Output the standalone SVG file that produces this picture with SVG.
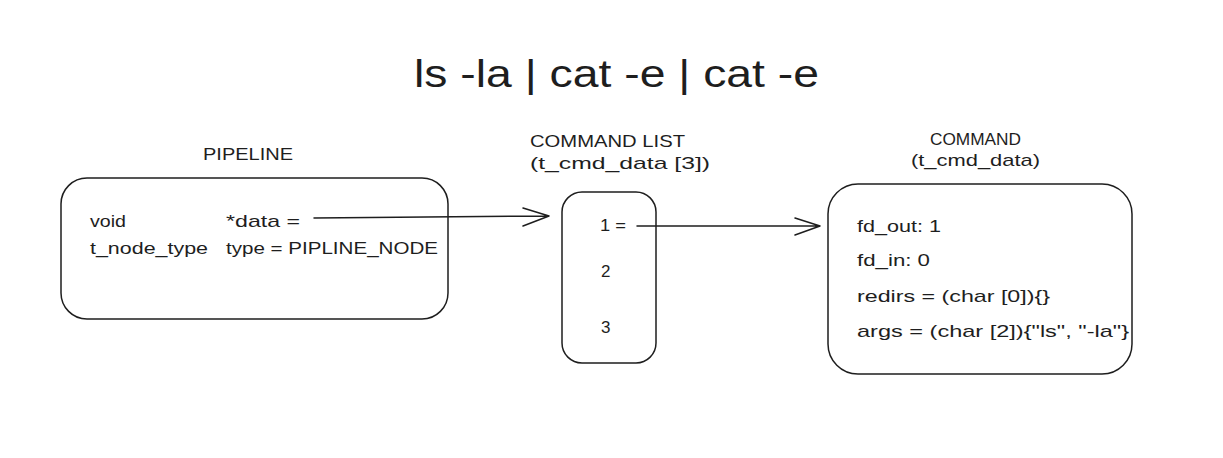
<svg xmlns="http://www.w3.org/2000/svg" width="1223" height="458" viewBox="0 0 1223 458">
<style>
.t{font-family:"Liberation Sans","DejaVu Sans",sans-serif;font-size:17px;fill:#1e1e1e}
.box{fill:none;stroke:#1e1e1e;stroke-width:1.5}
.ln{fill:none;stroke:#1e1e1e;stroke-width:1.5;stroke-linecap:round;stroke-linejoin:round}
</style>
<rect width="1223" height="458" fill="#ffffff"/>
<text class="t" x="414" y="87" style="font-size:38px" textLength="405" lengthAdjust="spacingAndGlyphs">ls -la | cat -e | cat -e</text>
<g id="pipeline">
<text class="t" x="203" y="160" textLength="90" lengthAdjust="spacingAndGlyphs">PIPELINE</text>
<rect class="box" x="61" y="178" width="387" height="141" rx="26"/>
<text class="t" x="90" y="227" textLength="36" lengthAdjust="spacingAndGlyphs">void</text>
<text class="t" x="226" y="227" textLength="74" lengthAdjust="spacingAndGlyphs">*data =</text>
<text class="t" x="90" y="254" textLength="118" lengthAdjust="spacingAndGlyphs">t_node_type</text>
<text class="t" x="226" y="254" textLength="212" lengthAdjust="spacingAndGlyphs">type = PIPLINE_NODE</text>
</g>
<g id="command_list">
<text class="t" x="530" y="147" textLength="155" lengthAdjust="spacingAndGlyphs">COMMAND LIST</text>
<text class="t" x="530" y="169" textLength="180" lengthAdjust="spacingAndGlyphs">(t_cmd_data [3])</text>
<rect class="box" x="562" y="192" width="94" height="171" rx="20"/>
<text class="t" x="600" y="231" textLength="26" lengthAdjust="spacingAndGlyphs">1 =</text>
<text class="t" x="601" y="277">2</text>
<text class="t" x="601" y="333">3</text>
</g>
<g id="command">
<text class="t" x="930" y="145" textLength="91" lengthAdjust="spacingAndGlyphs">COMMAND</text>
<text class="t" x="911" y="166" textLength="129" lengthAdjust="spacingAndGlyphs">(t_cmd_data)</text>
<rect class="box" x="828" y="184" width="304" height="190" rx="30"/>
<text class="t" x="857" y="232" textLength="84" lengthAdjust="spacingAndGlyphs">fd_out: 1</text>
<text class="t" x="857" y="266" textLength="73" lengthAdjust="spacingAndGlyphs">fd_in: 0</text>
<text class="t" x="857" y="302" textLength="193" lengthAdjust="spacingAndGlyphs">redirs = (char [0]){}</text>
<text class="t" x="857" y="337" textLength="272" lengthAdjust="spacingAndGlyphs">args = (char [2]){"ls", "-la"}</text>
</g>
<g id="connectors">
<path class="ln" d="M314 218 L549 216 M523 208 L549 216 L523 226"/>
<path class="ln" d="M637 226 L820 226 M795 218 L820 226 L795 235"/>
</g>
</svg>
